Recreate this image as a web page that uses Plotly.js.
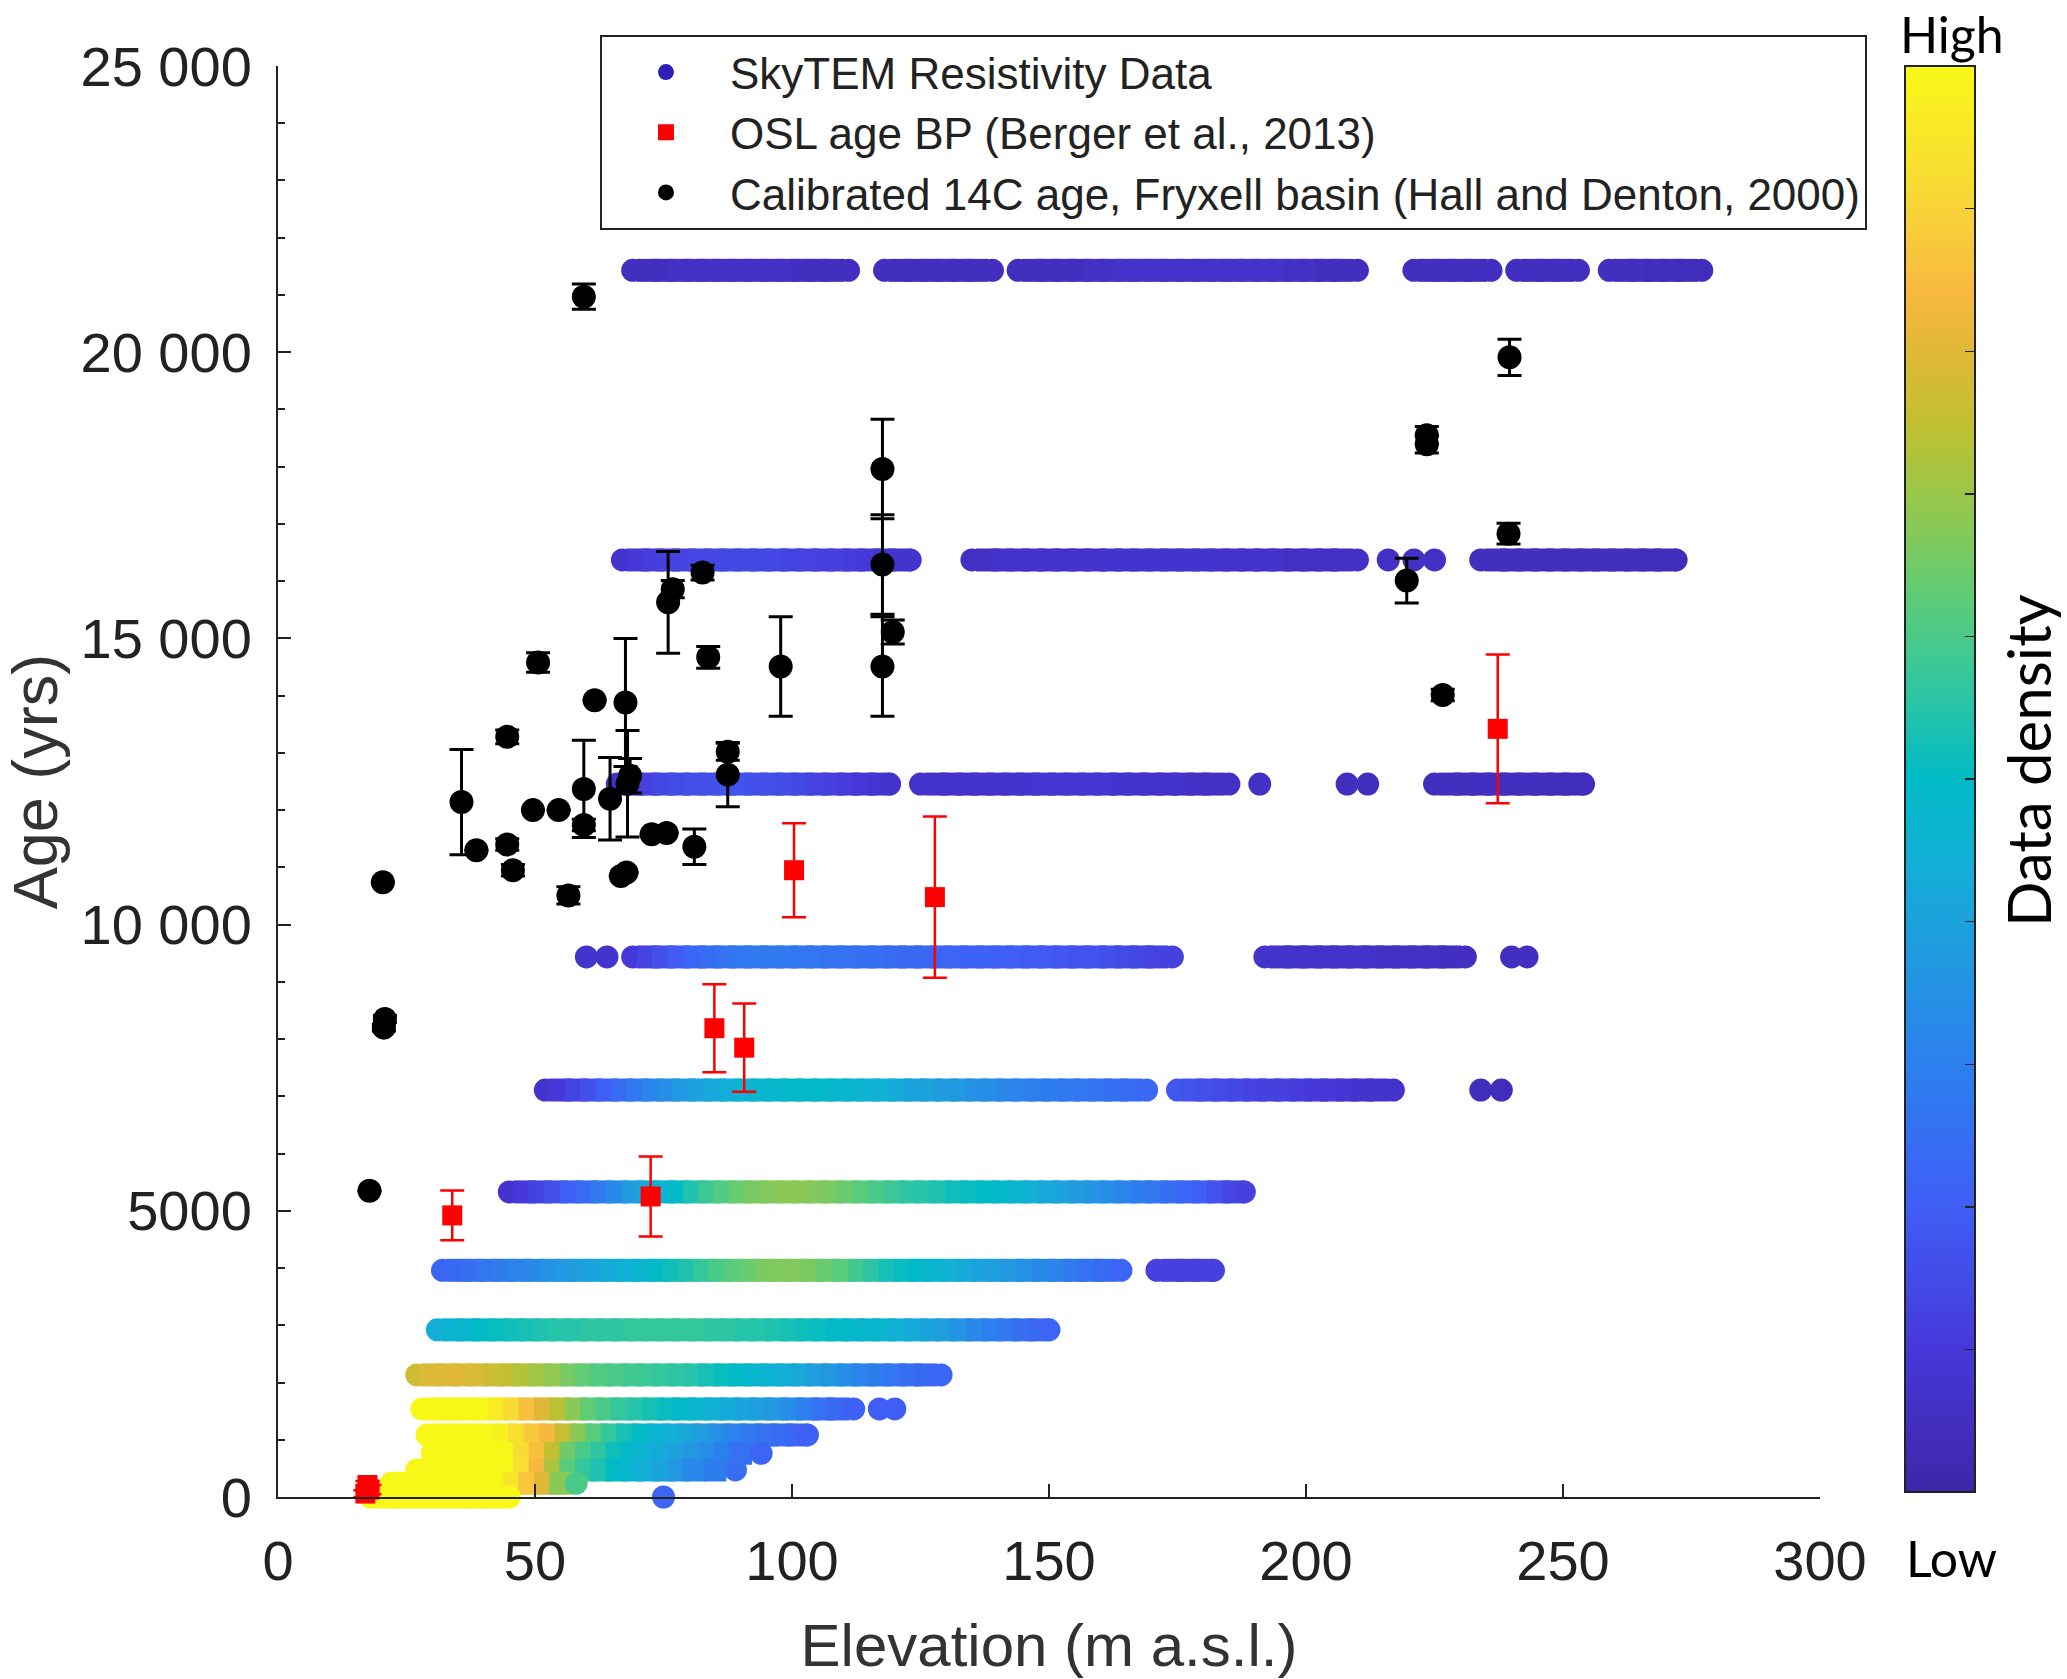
<!DOCTYPE html>
<html>
<head>
<meta charset="utf-8">
<script src="https://cdn.plot.ly/plotly-3.0.1.min.js"></script>
<style>
  html, body { margin: 0; padding: 0; background: #fff; }
  #plot-container { width: 2067px; height: 1679px; }
</style>
</head>
<body>
<div id="plot-container"></div>
<script>
// SkyTEM resistivity bands: one age (yrs) per band, elevation of each dot (m) and its data density (0..1)
const band21430Age = 21430;
const band21430X = [69,72,75,78,81,84,87,90,93,96,99,102,105,108,111,
  118,121,124,127,130,133,136,139,
  144,147,150,153,156,159,162,165,168,171,174,177,180,183,186,189,192,195,198,201,204,207,210,
  221,224,227,230,233,236,
  241,244,247,250,253,
  259,262,265,268,271,274,277];
const band21430D = [0.05,0.05,0.05,0.06,0.06,0.06,0.06,0.06,0.06,0.06,0.06,0.05,0.05,0.05,0.05,
  0.05,0.05,0.05,0.05,0.05,0.05,0.05,0.05,
  0.05,0.05,0.05,0.05,0.05,0.06,0.06,0.07,0.07,0.07,0.07,0.07,0.07,0.07,0.07,0.07,0.07,0.07,0.06,0.06,0.05,0.05,0.05,
  0.05,0.05,0.05,0.05,0.05,0.05,
  0.05,0.05,0.05,0.05,0.05,
  0.05,0.05,0.05,0.04,0.04,0.04,0.04];

const band16370Age = 16370;
const band16370X = [67,70,73,76,79,82,85,88,91,94,97,100,103,106,109,112,115,118,121,123,
  135,138,141,144,147,150,153,156,159,162,165,168,171,174,177,180,183,186,189,192,195,198,201,204,207,210,
  216,221,225,
  234,237,240,243,246,249,252,255,258,261,264,267,270,272];
const band16370D = [0.08,0.10,0.11,0.12,0.13,0.14,0.14,0.14,0.14,0.14,0.14,0.13,0.13,0.12,0.12,0.11,0.10,0.09,0.08,0.08,
  0.06,0.06,0.07,0.07,0.07,0.07,0.07,0.07,0.07,0.08,0.08,0.08,0.08,0.08,0.08,0.08,0.08,0.07,0.07,0.07,0.07,0.06,0.06,0.06,0.06,0.06,
  0.06,0.06,0.06,
  0.05,0.05,0.05,0.05,0.05,0.05,0.05,0.05,0.05,0.05,0.05,0.04,0.04,0.04];

const band12455Age = 12455;
const band12455X = [66,69,72,75,78,81,84,87,90,93,96,99,102,105,108,111,114,117,119,
  125,128,131,134,137,140,143,146,149,152,155,158,161,164,167,170,173,176,179,182,185,
  191,208,212,
  225,228,231,234,237,240,243,246,249,252,254];
const band12455D = [0.07,0.09,0.12,0.14,0.15,0.16,0.16,0.17,0.17,0.16,0.16,0.15,0.14,0.13,0.12,0.11,0.10,0.09,0.08,
  0.07,0.07,0.07,0.07,0.07,0.07,0.08,0.08,0.09,0.09,0.09,0.09,0.09,0.08,0.08,0.07,0.07,0.07,0.06,0.06,0.06,
  0.06,0.05,0.05,
  0.05,0.05,0.05,0.05,0.05,0.05,0.05,0.05,0.04,0.04,0.04];

const band9435Age = 9435;
const band9435X = [60,64,
  69,72,75,78,81,84,87,90,93,96,99,102,105,108,111,114,117,120,123,126,129,132,135,138,141,144,147,150,153,156,159,162,165,168,171,174,
  192,195,198,201,204,207,210,213,216,219,222,225,228,231,
  240,243];
const band9435D = [0.08,0.08,
  0.10,0.13,0.16,0.19,0.22,0.24,0.26,0.27,0.28,0.28,0.28,0.27,0.27,0.26,0.26,0.25,0.25,0.24,0.23,0.23,0.22,0.22,0.21,0.21,0.20,0.20,0.19,0.19,0.18,0.17,0.17,0.16,0.15,0.14,0.13,0.12,
  0.08,0.08,0.07,0.07,0.07,0.07,0.07,0.07,0.06,0.06,0.06,0.06,0.05,0.05,
  0.05,0.05];

const band7110Age = 7110;
const band7110X = [52,55,58,61,64,67,70,73,76,79,82,85,88,91,94,97,100,103,106,109,112,115,118,121,124,127,130,133,136,139,142,145,148,151,154,157,160,163,166,169,
  175,178,181,184,187,190,193,196,199,202,205,208,211,214,217,
  234,238];
const band7110D = [0.08,0.10,0.13,0.16,0.20,0.24,0.28,0.31,0.34,0.37,0.40,0.42,0.44,0.46,0.47,0.48,0.49,0.49,0.49,0.48,0.47,0.46,0.45,0.43,0.41,0.40,0.38,0.37,0.35,0.34,0.32,0.31,0.30,0.29,0.28,0.27,0.26,0.25,0.24,0.23,
  0.18,0.17,0.16,0.15,0.14,0.13,0.12,0.12,0.11,0.10,0.10,0.09,0.08,0.08,0.07,
  0.04,0.04];

const band5330Age = 5330;
const band5330X = [45,48,51,54,57,60,63,66,69,72,75,78,81,84,87,90,93,96,99,102,105,108,111,114,117,120,123,126,129,132,135,138,141,144,147,150,153,156,159,162,165,168,171,174,177,180,183,186,188];
const band5330D = [0.08,0.10,0.13,0.16,0.20,0.24,0.28,0.33,0.38,0.42,0.46,0.50,0.54,0.58,0.61,0.64,0.66,0.67,0.68,0.68,0.67,0.66,0.64,0.62,0.60,0.58,0.56,0.55,0.54,0.52,0.51,0.50,0.49,0.47,0.45,0.42,0.40,0.38,0.36,0.34,0.31,0.29,0.27,0.25,0.22,0.20,0.17,0.14,0.12];

const band3960Age = 3960;
const band3960X = [32,35,38,41,44,47,50,53,56,59,62,65,68,71,74,77,80,83,86,89,92,95,98,101,104,107,110,113,116,119,122,125,128,131,134,137,140,143,146,149,152,155,158,161,164,
  171,174,177,180,182];
const band3960D = [0.22,0.23,0.25,0.27,0.29,0.31,0.33,0.35,0.37,0.39,0.41,0.43,0.45,0.47,0.49,0.52,0.54,0.57,0.60,0.62,0.64,0.66,0.67,0.67,0.66,0.64,0.62,0.59,0.56,0.53,0.51,0.49,0.47,0.45,0.43,0.41,0.39,0.37,0.35,0.33,0.31,0.28,0.26,0.24,0.22,
  0.12,0.12,0.12,0.12,0.12];

const band2920Age = 2920;
const band2920X = [31,34,37,40,43,46,49,52,55,58,61,64,67,70,73,76,79,82,85,88,91,94,97,100,103,106,109,112,115,118,121,124,127,130,133,136,139,142,145,148,150];
const band2920D = [0.44,0.46,0.48,0.50,0.51,0.52,0.53,0.54,0.55,0.55,0.56,0.56,0.56,0.57,0.57,0.57,0.57,0.57,0.56,0.56,0.55,0.55,0.54,0.53,0.52,0.51,0.50,0.49,0.48,0.47,0.45,0.43,0.41,0.39,0.36,0.33,0.30,0.28,0.25,0.23,0.22];

const band2133Age = 2133;
const band2133X = [27,30,33,36,39,42,45,48,51,54,57,60,63,66,69,72,75,78,81,84,87,90,93,96,99,102,105,108,111,114,117,120,123,126,129];
const band2133D = [0.77,0.79,0.80,0.80,0.79,0.77,0.75,0.73,0.71,0.69,0.66,0.63,0.61,0.60,0.59,0.58,0.57,0.56,0.55,0.53,0.51,0.50,0.48,0.46,0.44,0.42,0.39,0.37,0.34,0.31,0.29,0.27,0.25,0.23,0.22];

const band1538Age = 1538;
const band1538X = [28,31,34,37,40,43,46,49,52,55,58,61,64,67,70,73,76,79,82,85,88,91,94,97,100,103,106,109,112,117,120];
const band1538D = [1,1,1,1,1,0.97,0.92,0.86,0.80,0.74,0.68,0.63,0.60,0.57,0.55,0.53,0.51,0.49,0.47,0.45,0.43,0.41,0.39,0.37,0.34,0.30,0.26,0.23,0.21,0.20,0.20];

const band1084Age = 1084;
const band1084X = [29,32,35,38,41,44,47,50,53,56,59,62,65,68,71,74,77,80,83,86,89,92,95,98,101,103];
const band1084D = [1,1,1,1,1,0.98,0.93,0.88,0.84,0.76,0.68,0.62,0.57,0.53,0.50,0.47,0.45,0.42,0.39,0.35,0.31,0.28,0.26,0.24,0.22,0.21];

const band764Age = 764;
const band764X = [30,33,36,39,42,45,48,51,54,57,60,63,66,69,72,75,78,81,84,87,90,94];
const band764D = [1,1,1,1,1,1,0.92,0.86,0.75,0.65,0.60,0.56,0.52,0.49,0.46,0.43,0.40,0.37,0.34,0.30,0.26,0.22];

const band472Age = 472;
const band472X = [27,30,33,36,39,42,45,48,51,54,57,60,63,66,69,72,75,78,81,85,89];
const band472D = [1,1,1,1,1,1,1,0.93,0.84,0.72,0.62,0.57,0.54,0.50,0.47,0.44,0.41,0.37,0.33,0.29,0.25];

const band240Age = 240;
const band240X = [22,25,28,31,34,37,40,43,46,49,52,55,58];
const band240D = [1,1,1,1,1,1,1,1,0.95,0.87,0.80,0.68,0.60];

const band0Age = 0;
const band0X = [18,21,24,27,30,33,36,39,42,45,75];
const band0D = [1,1,1,1,1,1,1,1,1,1,0.22];

// OSL ages BP (Berger et al., 2013)
const oslElev = [17.0, 17.8, 17.4, 33.9, 72.5, 84.9, 90.7, 100.4, 127.8, 237.3];
const oslAge  = [60, 130, 210, 4920, 5250, 8190, 7850, 10950, 10480, 13420];
const oslErr  = [60, 80, 70, 435, 700, 770, 770, 820, 1410, 1300];

// Calibrated 14C ages, Fryxell basin (Hall and Denton, 2000)
const c14Elev = [17.8, 20.6, 20.8, 20.4, 35.7, 38.6, 44.6, 45.7, 44.6, 49.6, 54.6, 50.6, 56.5, 59.5, 59.5,
  61.6, 64.6, 66.7, 67.8, 67.6, 68.0, 68.5, 72.7, 75.6, 75.9, 76.8, 82.6, 83.7, 81.0, 87.5,
  87.5, 97.8, 117.6, 117.6, 117.6, 119.6, 59.5, 239.6, 223.5, 223.5, 239.4, 219.6, 226.6];
const c14Age = [5350, 8200, 8350, 10740, 12140, 11300, 11400, 10950, 13280, 12000, 12000, 14580, 10510, 12370, 11740,
  13920, 12200, 10850, 10910, 13880, 12460, 12600, 11580, 11600, 15630, 15860, 16150, 14670, 11360, 13020,
  12620, 14510, 17960, 16290, 14510, 15110, 20970, 19910, 18550, 18390, 16830, 16010, 14010];
const c14Err = [0, 60, 60, 0, 920, 0, 100, 100, 120, 0, 0, 170, 150, 850, 100,
  0, 720, 0, 0, 1120, 930, 300, 0, 0, 890, 150, 130, 190, 310, 150,
  560, 870, 870, 870, 870, 210, 220, 315, 150, 150, 180, 390, 100];

// axis ticks
const elevTicks = [0, 50, 100, 150, 200, 250, 300];
const ageTickVals = [0, 5000, 10000, 15000, 20000, 25000];
const ageTickText = ['0', '5000', '10 000', '15 000', '20 000', '25 000'];
const densityBarTicks = [0.1, 0.2, 0.3, 0.4, 0.5, 0.6, 0.7, 0.8, 0.9];

// parula-like density colours, sampled off the colour bar
const densityScale = [
  [0, '#3e26a8'], [0.1, '#4638d8'], [0.2, '#3f5ef5'], [0.3, '#2c80ee'], [0.37, '#2298e0'],
  [0.445, '#12b0d6'], [0.5, '#00bac6'], [0.56, '#2ec6a2'], [0.625, '#5ccc78'], [0.69, '#92c84f'],
  [0.75, '#c2c030'], [0.8, '#e0b838'], [0.84, '#f8b840'], [0.91, '#f8d836'], [1, '#f8f818']
];

const bands = [
  [band21430Age, band21430X, band21430D],
  [band16370Age, band16370X, band16370D],
  [band12455Age, band12455X, band12455D],
  [band9435Age, band9435X, band9435D],
  [band7110Age, band7110X, band7110D],
  [band5330Age, band5330X, band5330D],
  [band3960Age, band3960X, band3960D],
  [band2920Age, band2920X, band2920D],
  [band2133Age, band2133X, band2133D],
  [band1538Age, band1538X, band1538D],
  [band1084Age, band1084X, band1084D],
  [band764Age, band764X, band764D],
  [band472Age, band472X, band472D],
  [band240Age, band240X, band240D],
  [band0Age, band0X, band0D]
];

const FONT = 'Liberation Sans, Arial, sans-serif';
const SIDE_FONT = 'Lato, Carlito, sans-serif';
const BAND_SIZE = 23;
let traces = [];

// dots inside a run are drawn square so the run reads as one smooth strip; run ends stay round
function runSymbols(xs) {
  return xs.map((v, i) => {
    const gapPrev = i > 0 ? v - xs[i - 1] : Infinity;
    const gapNext = i < xs.length - 1 ? xs[i + 1] - v : Infinity;
    return (gapPrev > 4 || gapNext > 4) ? 'circle' : 'square';
  });
}

// legend-only entry for the SkyTEM bands
traces.push({
  x: [null], y: [null],
  type: 'scatter', mode: 'markers',
  name: 'SkyTEM Resistivity Data',
  marker: { color: '#2d1fb4', size: 16 },
  legendgroup: 'sky', legendrank: 1,
  hoverinfo: 'skip'
});

bands.forEach((b, i) => {
  traces.push({
    x: b[1],
    y: b[1].map(() => b[0]),
    type: 'scatter',
    mode: 'markers',
    showlegend: false,
    cliponaxis: false,
    marker: {
      size: BAND_SIZE,
      symbol: runSymbols(b[1]),
      color: b[2],
      colorscale: densityScale,
      cmin: 0, cmax: 1,
      line: { width: 0 },
      showscale: i === 0,
      colorbar: {
        x: 1.0551, xanchor: 'left', xpad: 0, ypad: 0,
        y: 0.5017, yanchor: 'middle',
        thickness: 70, thicknessmode: 'pixels',
        len: 1426, lenmode: 'pixels',
        outlinewidth: 2, outlinecolor: '#222',
        tickmode: 'array', tickvals: densityBarTicks,
        ticks: 'inside', ticklen: 11, tickwidth: 1.5, tickcolor: '#222',
        showticklabels: false
      }
    },
    hoverinfo: 'skip'
  });
});

traces.push({
  x: c14Elev, y: c14Age,
  type: 'scatter', mode: 'markers',
  name: 'Calibrated 14C age, Fryxell basin (Hall and Denton, 2000)',
  legendgroup: 'c14', legendrank: 3,
  marker: { color: '#000', size: 24, symbol: 'circle' },
  error_y: { type: 'data', array: c14Err, visible: true, color: '#000', thickness: 3, width: 12 }
});

traces.push({
  x: oslElev, y: oslAge,
  type: 'scatter', mode: 'markers',
  name: 'OSL age BP (Berger et al., 2013)',
  legendgroup: 'osl', legendrank: 2,
  cliponaxis: false,
  marker: { color: '#ff0000', size: 20, symbol: 'square' },
  error_y: { type: 'data', array: oslErr, visible: true, color: '#ff0000', thickness: 2.5, width: 12 }
});

const layout = {
  width: 2067,
  height: 1679,
  margin: { l: 278, r: 247, t: 66, b: 182, pad: 0 },
  paper_bgcolor: '#fff',
  plot_bgcolor: '#fff',
  font: { family: FONT, color: '#222' },
  showlegend: true,
  legend: {
    x: 0.2088, y: 1.0217, xanchor: 'left', yanchor: 'top',
    bgcolor: '#fff', bordercolor: '#222', borderwidth: 2,
    font: { family: FONT, size: 44, color: '#222' },
    traceorder: 'grouped', tracegroupgap: 0,
    itemwidth: 118
  },
  xaxis: {
    range: [0, 300],
    tickmode: 'array', tickvals: elevTicks,
    ticks: 'inside', ticklen: 13, tickwidth: 2, tickcolor: '#222',
    showline: true, linecolor: '#222', linewidth: 2,
    showgrid: false, zeroline: false,
    tickfont: { family: FONT, size: 56, color: '#222' },
    ticklabelstandoff: 14,
    title: { text: 'Elevation (m a.s.l.)', font: { family: FONT, size: 60, color: '#333' }, standoff: 46 }
  },
  yaxis: {
    range: [0, 25000],
    tickmode: 'array', tickvals: ageTickVals, ticktext: ageTickText,
    ticks: 'inside', ticklen: 13, tickwidth: 2, tickcolor: '#222',
    minor: { dtick: 1000, ticks: 'inside', ticklen: 7, tickwidth: 2, tickcolor: '#222', showgrid: false },
    showline: true, linecolor: '#222', linewidth: 2,
    showgrid: false, zeroline: false,
    tickfont: { family: FONT, size: 56, color: '#222' },
    ticklabelstandoff: 13,
    title: { text: 'Age (yrs)', font: { family: FONT, size: 63, color: '#333' }, standoff: 22 }
  },
  annotations: [
    { text: 'High', xref: 'paper', yref: 'paper', x: 1.0856, y: 1.0447, xanchor: 'center', yanchor: 'top',
      showarrow: false, font: { family: SIDE_FONT, size: 50, color: '#000' } },
    { text: 'Low', xref: 'paper', yref: 'paper', x: 1.085, y: -0.0426, xanchor: 'center', yanchor: 'middle',
      showarrow: false, font: { family: SIDE_FONT, size: 50, color: '#000' } },
    { text: 'Data density', xref: 'paper', yref: 'paper', x: 1.1595, y: 0.515, xanchor: 'right', yanchor: 'middle',
      textangle: -90, showarrow: false, font: { family: SIDE_FONT, size: 60, color: '#000' } }
  ]
};

Plotly.newPlot('plot-container', traces, layout, { displayModeBar: false, staticPlot: true });
</script>
</body>
</html>
